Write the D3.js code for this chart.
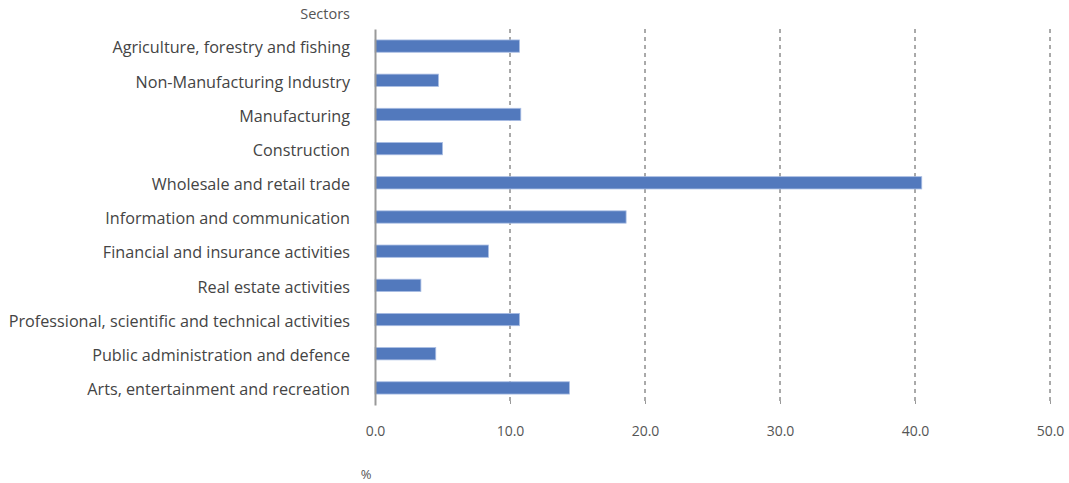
<!DOCTYPE html>
<html>
<head>
<meta charset="utf-8">
<script src="https://cdn.jsdelivr.net/npm/d3@7"></script>
<style>
  body { margin: 0; background: #fff; }
  svg text { font-family: "Open Sans", "Noto Sans", sans-serif; }
</style>
</head>
<body>
<svg id="chart" width="1069" height="483"></svg>
<script>
// Share of firms by sector, %
const sectors = [
  "Agriculture, forestry and fishing",
  "Non-Manufacturing Industry",
  "Manufacturing",
  "Construction",
  "Wholesale and retail trade",
  "Information and communication",
  "Financial and insurance activities",
  "Real estate activities",
  "Professional, scientific and technical activities",
  "Public administration and defence",
  "Arts, entertainment and recreation"
];
const values = [10.7, 4.7, 10.8, 5.0, 40.5, 18.6, 8.4, 3.4, 10.7, 4.5, 14.4];
const xTicks = [0, 10, 20, 30, 40, 50];

const svg = d3.select("#chart");
const plotLeft = 375, plotRight = 1050, plotTop = 29, plotBottom = 405;

const x = d3.scaleLinear().domain([0, 50]).range([plotLeft, plotRight]);
const y = d3.scaleBand().domain(sectors).range([plotTop, plotBottom]).paddingInner(0.64).paddingOuter(0.32);

// dashed vertical gridlines
svg.append("g").selectAll("line")
  .data(xTicks.filter(d => d > 0))
  .join("line")
  .attr("x1", d => x(d)).attr("x2", d => x(d))
  .attr("y1", plotTop).attr("y2", plotBottom)
  .attr("stroke", "#555")
  .attr("stroke-width", 1)
  .attr("stroke-dasharray", "4,4");

// bars
svg.append("g").selectAll("rect")
  .data(values)
  .join("rect")
  .attr("x", x(0))
  .attr("y", (d, i) => y(sectors[i]))
  .attr("width", d => x(d) - x(0))
  .attr("height", y.bandwidth())
  .attr("fill", "#5279bd")
  .attr("stroke", "#a9bde3")
  .attr("stroke-width", 0.8);

// category axis
const yAxis = svg.append("g")
  .attr("transform", `translate(${plotLeft},0)`)
  .call(d3.axisLeft(y).tickSize(0).tickPadding(25));
yAxis.select(".domain").attr("stroke", "#9a9a9a").attr("stroke-width", 2);
yAxis.selectAll("text")
  .attr("fill", "#444")
  .attr("font-size", "16.2px")
  .attr("dy", "0.45em")
  .attr("font-family", "\"Open Sans\", sans-serif");

// value axis
const xAxis = svg.append("g")
  .attr("transform", `translate(0,${plotBottom - 4})`)
  .call(d3.axisBottom(x).tickValues(xTicks).tickFormat(d3.format(".1f")).tickSize(3).tickPadding(22));
xAxis.select(".domain").remove();
xAxis.selectAll(".tick line").attr("stroke", "#999");
xAxis.selectAll("text")
  .attr("fill", "#555")
  .attr("font-size", "14px")
  .attr("font-family", "\"Open Sans\", sans-serif");

// axis titles
svg.append("text")
  .attr("x", 350).attr("y", 19)
  .attr("text-anchor", "end")
  .attr("fill", "#555")
  .attr("font-size", "14.5px")
  .text("Sectors");

svg.append("text")
  .attr("x", 366).attr("y", 479)
  .attr("text-anchor", "middle")
  .attr("fill", "#555")
  .attr("font-size", "13px")
  .text("%");
</script>
</body>
</html>
